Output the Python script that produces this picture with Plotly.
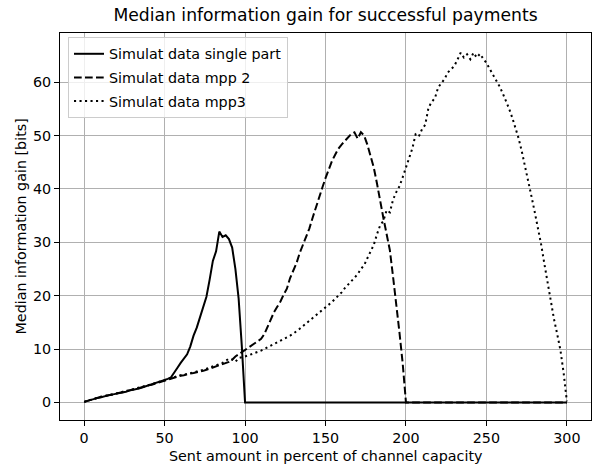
import plotly.graph_objects as go

# x grid: sent amount in percent of channel capacity (step 2)
sent_amount = list(range(0, 301, 2))

single_part = [
    0.1, 0.3, 0.5, 0.6, 0.8, 0.9, 1.1, 1.2, 1.4, 1.5, 1.6, 1.8, 1.9, 2.0, 2.2, 2.3, 2.5, 2.6, 2.8, 3.0,
    3.1, 3.3, 3.5, 3.7, 3.9, 4.1,
    4.4, 4.7, 5.5, 6.5, 7.4, 8.2, 9.0, 10.5, 12.5, 14.0, 15.8, 17.6, 19.8, 23.0, 26.5, 28.3, 32.0, 31.0,
    31.3, 30.6, 29.0, 25.0, 19.5, 10.5, 0.0,
] + [0.0] * 100

mpp_2 = [
    0.1, 0.3, 0.4, 0.6, 0.8, 1.0, 1.1, 1.3, 1.4, 1.5, 1.7, 1.8, 1.9, 2.1, 2.2, 2.4, 2.5, 2.7, 2.8, 3.0,
    3.2, 3.3, 3.5, 3.7, 3.9, 4.1,
    4.3, 4.5, 4.7, 4.8, 5.0, 5.1, 5.3, 5.4, 5.5, 5.6, 5.8, 5.9, 6.1, 6.3, 6.5, 6.7, 6.9, 7.1, 7.3, 7.6,
    8.0, 8.6, 9.0, 9.4, 9.9,
    10.2, 10.6, 11.0, 11.5, 11.9, 12.8, 14.2, 15.5, 16.9, 17.9, 18.9, 20.2, 21.3, 23.3, 24.8, 26.1,
    28.0, 29.6, 31.2, 32.6, 34.6, 36.6, 38.4, 40.2, 42.0, 43.8, 45.2, 46.4, 47.5, 48.3, 49.0, 49.8,
    50.3, 50.6, 49.4, 50.6, 50.0, 48.3, 46.2, 44.0, 41.0, 37.5, 34.5, 31.5, 28.5, 23.5, 18.5, 13.0,
    7.2, 0.0,
] + [0.0] * 50

mpp_3 = [
    0.1, 0.3, 0.5, 0.7, 0.8, 1.0, 1.2, 1.3, 1.4, 1.6, 1.7, 1.8, 2.0, 2.1, 2.3, 2.4, 2.6, 2.7, 2.9, 3.1,
    3.2, 3.4, 3.6, 3.8, 4.0, 4.2,
    4.4, 4.6, 4.8, 4.9, 5.1, 5.2, 5.3, 5.5, 5.6, 5.8, 5.9, 6.1, 6.3, 6.5, 6.7, 6.9, 7.2, 7.4, 7.8, 8.2,
    8.0, 7.6, 8.3, 8.4, 8.6,
    8.8, 9.0, 9.2, 9.4, 9.7, 10.0, 10.3, 10.6, 10.9, 11.2, 11.5, 11.8, 12.2, 12.5, 12.9, 13.3, 13.8,
    14.3, 14.8, 15.3, 15.8, 16.3, 16.7, 17.2, 17.8, 18.2, 18.8, 19.4, 20.0, 20.6, 21.4, 22.1, 22.8,
    23.4, 24.0, 25.0, 25.7, 27.0, 28.4, 29.5, 31.5, 33.2, 34.0, 36.0, 35.6, 38.0, 39.4, 40.5, 42.2, 44.0,
    45.8, 47.6, 50.2, 49.8, 51.2, 52.0, 55.2, 56.3, 57.0, 59.0, 59.8, 60.6, 61.8, 62.5, 63.0, 64.2,
    65.5, 64.6, 65.2, 64.3, 65.5, 64.6, 65.3, 64.4,
    63.6, 62.5, 61.5, 60.4, 59.3, 58.0, 56.7, 55.1, 53.4, 51.6, 49.5, 47.0, 44.4, 41.6, 38.6, 35.7,
    32.8, 29.6, 26.0, 22.3, 18.8, 15.6, 12.8, 9.8, 5.5, 0.2,
]

series_names = ["Simulat data single part", "Simulat data mpp 2", "Simulat data mpp3"]
x_ticks = [0, 50, 100, 150, 200, 250, 300]
y_ticks = [0, 10, 20, 30, 40, 50, 60]

assert len(single_part) == len(sent_amount)
assert len(mpp_2) == len(sent_amount)
assert len(mpp_3) == len(sent_amount)

FONT = "DejaVu Sans"
FS = 14.3
W, H = 597, 466
L, R, T, B = 60, 6, 33, 46

fig = go.Figure()
styles = ["solid", "7.7px,3.3px", "2.1px,3.4px"]
for i, (name, ys, dash) in enumerate(zip(series_names, [single_part, mpp_2, mpp_3], styles)):
    fig.add_trace(go.Scatter(
        x=sent_amount, y=ys, mode="lines", name=name, legendgroup=f"g{i}",
        line=dict(color="black", width=2, dash=dash),
    ))

axis_common = dict(
    showgrid=True, gridcolor="#b0b0b0", gridwidth=1.1,
    zeroline=False, showline=True, mirror=True, linecolor="black", linewidth=1.1,
    ticks="outside", ticklen=5, tickwidth=1.1, tickcolor="black",
    tickfont=dict(family=FONT, size=FS, color="black"),
)

fig.update_layout(
    width=W, height=H,
    paper_bgcolor="white", plot_bgcolor="white",
    margin=dict(l=L, r=R, t=T, b=B, pad=0),
    font=dict(family=FONT, size=FS, color="black"),
    title=dict(
        text="Median information gain for successful payments",
        x=0.5, xref="paper", xanchor="center",
        y=1 - 15 / H, yref="container", yanchor="middle",
        font=dict(family=FONT, size=17.2, color="black"),
    ),
    xaxis=dict(range=[-15, 315], tickvals=x_ticks, **axis_common),
    yaxis=dict(range=[-3.3, 69.2], tickvals=y_ticks, **axis_common),
    legend=dict(
        x=8 / (W - L - R), y=1 - 4 / (H - T - B), xanchor="left", yanchor="top",
        bgcolor="rgba(255,255,255,0.8)", bordercolor="#cccccc", borderwidth=1,
        font=dict(family=FONT, size=FS, color="black"),
        itemwidth=30, tracegroupgap=2,
    ),
    showlegend=True,
    annotations=[
        dict(text="Sent amount in percent of channel capacity", xref="paper", yref="paper",
             x=0.5, y=-(456 - (H - B)) / (H - T - B), xanchor="center", yanchor="middle",
             showarrow=False, font=dict(family=FONT, size=FS, color="black")),
        dict(text="Median information gain [bits]", xref="paper", yref="paper",
             x=-(L - 20) / (W - L - R), y=0.5, xanchor="center", yanchor="middle",
             textangle=-90, showarrow=False, font=dict(family=FONT, size=FS, color="black")),
    ],
)

fig.write_html(
    "out.html",
    config={"displayModeBar": False},
    post_script="document.body.style.margin='0';document.body.style.padding='0';",
)
